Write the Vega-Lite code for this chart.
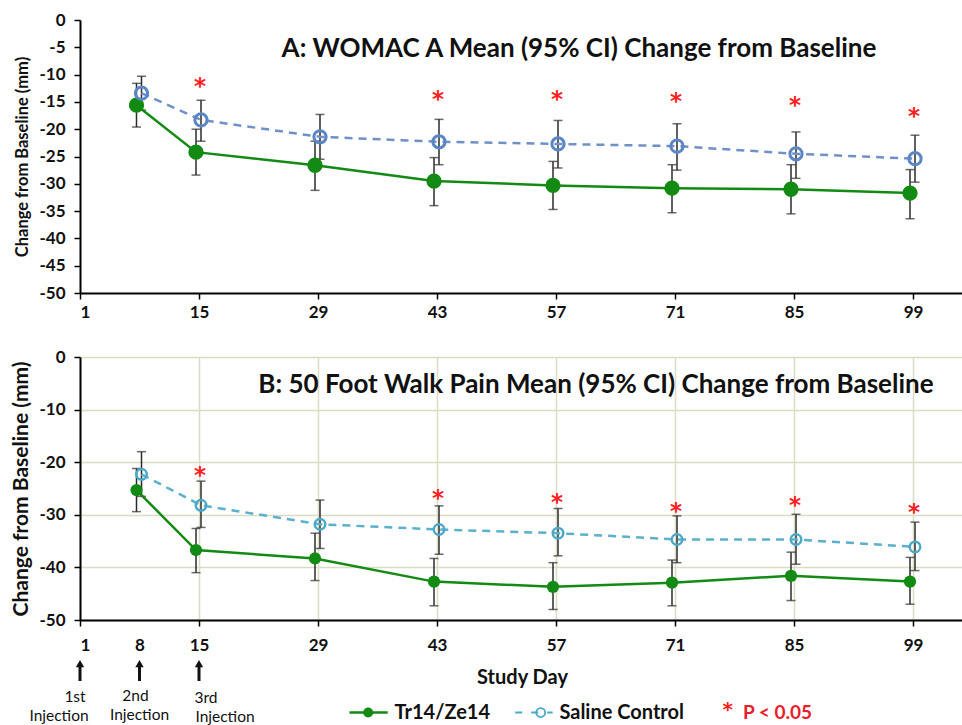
{
  "$schema": "https://vega.github.io/schema/vega-lite/v6.json",
  "background": "white",
  "padding": {"left": 10, "top": 11, "right": 0, "bottom": 0},
  "bounds": "flush",
  "spacing": 64,
  "datasets": {
    "womac": [
      {"day": 8, "group": "Tr14/Ze14", "mean": -15.6, "lo": -19.6, "hi": -11.6},
      {"day": 15, "group": "Tr14/Ze14", "mean": -24.2, "lo": -28.4, "hi": -20.0},
      {"day": 29, "group": "Tr14/Ze14", "mean": -26.6, "lo": -31.2, "hi": -22.2},
      {"day": 43, "group": "Tr14/Ze14", "mean": -29.5, "lo": -34.0, "hi": -25.2},
      {"day": 57, "group": "Tr14/Ze14", "mean": -30.3, "lo": -34.7, "hi": -25.9},
      {"day": 71, "group": "Tr14/Ze14", "mean": -30.8, "lo": -35.3, "hi": -26.5},
      {"day": 85, "group": "Tr14/Ze14", "mean": -31.0, "lo": -35.5, "hi": -26.5},
      {"day": 99, "group": "Tr14/Ze14", "mean": -31.7, "lo": -36.4, "hi": -27.4},
      {"day": 8, "group": "Saline Control", "mean": -13.4, "lo": -16.5, "hi": -10.3},
      {"day": 15, "group": "Saline Control", "mean": -18.3, "lo": -22.2, "hi": -14.7},
      {"day": 29, "group": "Saline Control", "mean": -21.4, "lo": -25.5, "hi": -17.3},
      {"day": 43, "group": "Saline Control", "mean": -22.3, "lo": -26.5, "hi": -18.2},
      {"day": 57, "group": "Saline Control", "mean": -22.7, "lo": -27.1, "hi": -18.4},
      {"day": 71, "group": "Saline Control", "mean": -23.1, "lo": -27.5, "hi": -19.0},
      {"day": 85, "group": "Saline Control", "mean": -24.5, "lo": -29.0, "hi": -20.5},
      {"day": 99, "group": "Saline Control", "mean": -25.4, "lo": -29.7, "hi": -21.1}
    ],
    "walk": [
      {"day": 8, "group": "Tr14/Ze14", "mean": -25.3, "lo": -29.4, "hi": -21.2},
      {"day": 15, "group": "Tr14/Ze14", "mean": -36.7, "lo": -41.0, "hi": -32.6},
      {"day": 29, "group": "Tr14/Ze14", "mean": -38.3, "lo": -42.5, "hi": -33.5},
      {"day": 43, "group": "Tr14/Ze14", "mean": -42.7, "lo": -47.3, "hi": -38.3},
      {"day": 57, "group": "Tr14/Ze14", "mean": -43.7, "lo": -48.0, "hi": -39.1},
      {"day": 71, "group": "Tr14/Ze14", "mean": -42.9, "lo": -47.3, "hi": -38.6},
      {"day": 85, "group": "Tr14/Ze14", "mean": -41.6, "lo": -46.3, "hi": -37.1},
      {"day": 99, "group": "Tr14/Ze14", "mean": -42.7, "lo": -47.0, "hi": -38.1},
      {"day": 8, "group": "Saline Control", "mean": -22.3, "lo": -26.5, "hi": -18.0},
      {"day": 15, "group": "Saline Control", "mean": -28.2, "lo": -32.4, "hi": -23.6},
      {"day": 29, "group": "Saline Control", "mean": -31.8, "lo": -36.4, "hi": -27.2},
      {"day": 43, "group": "Saline Control", "mean": -32.8, "lo": -37.5, "hi": -28.3},
      {"day": 57, "group": "Saline Control", "mean": -33.5, "lo": -37.8, "hi": -28.8},
      {"day": 71, "group": "Saline Control", "mean": -34.7, "lo": -39.1, "hi": -30.2},
      {"day": 85, "group": "Saline Control", "mean": -34.7, "lo": -39.4, "hi": -29.9},
      {"day": 99, "group": "Saline Control", "mean": -36.1, "lo": -40.6, "hi": -31.4}
    ],
    "sigA": [
      {"day": 15, "y": -11.1}, {"day": 43, "y": -13.6}, {"day": 57, "y": -13.6},
      {"day": 71, "y": -13.9}, {"day": 85, "y": -14.7}, {"day": 99, "y": -16.6}
    ],
    "sigB": [
      {"day": 15, "y": -21.5}, {"day": 43, "y": -25.9}, {"day": 57, "y": -26.6},
      {"day": 71, "y": -28.3}, {"day": 85, "y": -27.2}, {"day": 99, "y": -28.5}
    ],
    "injections": [
      {"day": 1, "label": "1st"}, {"day": 8, "label": "2nd"}, {"day": 15, "label": "3rd"}
    ]
  },
  "vconcat": [
    {
      "width": 884,
      "height": 273,
      "resolve": {"axis": {"x": "independent", "y": "independent"}},
      "layer": [
        {"data": {"values": [{}]}, "mark": {"type": "rect", "fill": "white"},
         "encoding": {"x": {"datum": 13, "axis": null}, "x2": {"datum": 95.5}, "y": {"datum": -3.2, "axis": null}, "y2": {"datum": -6.8}}},
        {
          "data": {"name": "womac"},
          "encoding": {
            "x": {"field": "day", "type": "quantitative",
                  "scale": {"domain": [1, 105], "nice": false, "zero": false},
                  "axis": {"values": [1, 15, 29, 43, 57, 71, 85, 99], "title": null, "labelPadding": 5}},
            "y": {"field": "mean", "type": "quantitative",
                  "scale": {"domain": [-50, 0], "nice": false},
                  "axis": {"values": [0, -5, -10, -15, -20, -25, -30, -35, -40, -45, -50],
                           "title": "Change from Baseline (mm)", "titleFontSize": 16.5, "titlePadding": 8}}
          },
          "layer": [
            {"transform": [{"filter": "datum.group == 'Tr14/Ze14'"}],
             "mark": {"type": "rule", "color": "#2b2b2b", "strokeWidth": 1.5, "xOffset": -3},
             "encoding": {"y": {"field": "lo"}, "y2": {"field": "hi"}}},
            {"transform": [{"filter": "datum.group == 'Tr14/Ze14'"}],
             "mark": {"type": "tick", "orient": "horizontal", "color": "#2b2b2b", "size": 9, "thickness": 1.5, "xOffset": -3},
             "encoding": {"y": {"field": "lo"}}},
            {"transform": [{"filter": "datum.group == 'Tr14/Ze14'"}],
             "mark": {"type": "tick", "orient": "horizontal", "color": "#2b2b2b", "size": 9, "thickness": 1.5, "xOffset": -3},
             "encoding": {"y": {"field": "hi"}}},
            {"transform": [{"filter": "datum.group == 'Saline Control'"}],
             "mark": {"type": "rule", "color": "#2b2b2b", "strokeWidth": 1.5, "xOffset": 2},
             "encoding": {"y": {"field": "lo"}, "y2": {"field": "hi"}}},
            {"transform": [{"filter": "datum.group == 'Saline Control'"}],
             "mark": {"type": "tick", "orient": "horizontal", "color": "#2b2b2b", "size": 9, "thickness": 1.5, "xOffset": 2},
             "encoding": {"y": {"field": "lo"}}},
            {"transform": [{"filter": "datum.group == 'Saline Control'"}],
             "mark": {"type": "tick", "orient": "horizontal", "color": "#2b2b2b", "size": 9, "thickness": 1.5, "xOffset": 2},
             "encoding": {"y": {"field": "hi"}}},
            {"transform": [{"filter": "datum.group == 'Tr14/Ze14'"}],
             "mark": {"type": "line", "color": "#138a13", "strokeWidth": 2.5, "xOffset": -3}},
            {"transform": [{"filter": "datum.group == 'Saline Control'"}],
             "mark": {"type": "line", "color": "#7090c8", "strokeWidth": 2.5, "strokeDash": [8, 6], "xOffset": 2}},
            {"transform": [{"filter": "datum.group == 'Tr14/Ze14'"}],
             "mark": {"type": "point", "shape": "circle", "filled": true, "color": "#138a13", "opacity": 1, "size": 235, "xOffset": -3}},
            {"transform": [{"filter": "datum.group == 'Saline Control'"}],
             "mark": {"type": "point", "shape": "circle", "filled": false, "color": "#5a86c5", "opacity": 1, "strokeWidth": 3, "size": 150, "xOffset": 2}},
            {"data": {"name": "sigA"},
             "mark": {"type": "text", "text": "*", "color": "#ff2020", "fontSize": 23, "fontWeight": "bold", "font": "DejaVu Sans", "xOffset": 1, "dy": 6},
             "encoding": {"y": {"field": "y"}}}
          ]
        },
        {"data": {"values": [{}]},
         "mark": {"type": "text", "fontSize": 26, "fontWeight": "bold", "color": "#111111", "align": "center", "baseline": "middle"},
         "encoding": {"x": {"datum": 59.7, "axis": null}, "y": {"datum": -5.4, "axis": null}, "text": {"value": "A: WOMAC A Mean (95% CI) Change from Baseline"}}}
      ]
    },
    {
      "width": 884,
      "height": 263,
      "resolve": {"axis": {"x": "independent", "y": "independent"}},
      "layer": [
        {
          "data": {"name": "walk"},
          "encoding": {
            "x": {"field": "day", "type": "quantitative",
                  "scale": {"domain": [1, 105], "nice": false, "zero": false},
                  "axis": {"values": [1, 8, 15, 29, 43, 57, 71, 85, 99], "title": "Study Day", "labelPadding": 11,
                           "titleFontSize": 20, "titlePadding": 14,
                           "gridColor": {"condition": {"test": "datum.value == 8", "value": "transparent"}, "value": "#dcdcc4"},
                           "tickColor": {"condition": {"test": "datum.value == 8", "value": "transparent"}, "value": "#000000"}}},
            "y": {"field": "mean", "type": "quantitative",
                  "scale": {"domain": [-50, 0], "nice": false},
                  "axis": {"values": [0, -10, -20, -30, -40, -50],
                           "title": "Change from Baseline (mm)", "titleFontSize": 21, "titlePadding": 7}}
          },
          "layer": [
            {"transform": [{"filter": "datum.group == 'Tr14/Ze14'"}],
             "mark": {"type": "rule", "color": "#2b2b2b", "strokeWidth": 1.5, "xOffset": -3},
             "encoding": {"y": {"field": "lo"}, "y2": {"field": "hi"}}},
            {"transform": [{"filter": "datum.group == 'Tr14/Ze14'"}],
             "mark": {"type": "tick", "orient": "horizontal", "color": "#2b2b2b", "size": 9, "thickness": 1.5, "xOffset": -3},
             "encoding": {"y": {"field": "lo"}}},
            {"transform": [{"filter": "datum.group == 'Tr14/Ze14'"}],
             "mark": {"type": "tick", "orient": "horizontal", "color": "#2b2b2b", "size": 9, "thickness": 1.5, "xOffset": -3},
             "encoding": {"y": {"field": "hi"}}},
            {"transform": [{"filter": "datum.group == 'Saline Control'"}],
             "mark": {"type": "rule", "color": "#2b2b2b", "strokeWidth": 1.5, "xOffset": 2},
             "encoding": {"y": {"field": "lo"}, "y2": {"field": "hi"}}},
            {"transform": [{"filter": "datum.group == 'Saline Control'"}],
             "mark": {"type": "tick", "orient": "horizontal", "color": "#2b2b2b", "size": 9, "thickness": 1.5, "xOffset": 2},
             "encoding": {"y": {"field": "lo"}}},
            {"transform": [{"filter": "datum.group == 'Saline Control'"}],
             "mark": {"type": "tick", "orient": "horizontal", "color": "#2b2b2b", "size": 9, "thickness": 1.5, "xOffset": 2},
             "encoding": {"y": {"field": "hi"}}},
            {"transform": [{"filter": "datum.group == 'Tr14/Ze14'"}],
             "mark": {"type": "line", "color": "#138a13", "strokeWidth": 2.5, "xOffset": -3}},
            {"transform": [{"filter": "datum.group == 'Saline Control'"}],
             "mark": {"type": "line", "color": "#5bb0cc", "strokeWidth": 2.5, "strokeDash": [8, 6], "xOffset": 2}},
            {"transform": [{"filter": "datum.group == 'Tr14/Ze14'"}],
             "mark": {"type": "point", "shape": "circle", "filled": true, "color": "#138a13", "opacity": 1, "size": 150, "xOffset": -3}},
            {"transform": [{"filter": "datum.group == 'Saline Control'"}],
             "mark": {"type": "point", "shape": "circle", "filled": false, "color": "#4aa8c8", "opacity": 1, "strokeWidth": 2.5, "size": 110, "xOffset": 2}},
            {"data": {"name": "sigB"},
             "mark": {"type": "text", "text": "*", "color": "#ff2020", "fontSize": 23, "fontWeight": "bold", "font": "DejaVu Sans", "xOffset": 1, "dy": 6},
             "encoding": {"y": {"field": "y"}}}
          ]
        },
        {"data": {"values": [{}]},
         "mark": {"type": "text", "fontSize": 26, "fontWeight": "bold", "color": "#111111", "align": "center", "baseline": "middle"},
         "encoding": {"x": {"datum": 61.7, "axis": null}, "y": {"datum": -5.4, "axis": null}, "text": {"value": "B: 50 Foot Walk Pain Mean (95% CI) Change from Baseline"}}},
        {"data": {"name": "injections"},
         "mark": {"type": "rule", "color": "#111111", "strokeWidth": 3},
         "encoding": {"x": {"field": "day", "type": "quantitative", "axis": null}, "y": {"datum": -58.8, "axis": null}, "y2": {"datum": -61.6}}},
        {"data": {"name": "injections"},
         "mark": {"type": "point", "shape": "triangle-up", "filled": true, "color": "#111111", "opacity": 1, "size": 70},
         "encoding": {"x": {"field": "day", "type": "quantitative", "axis": null}, "y": {"datum": -58.3, "axis": null}}},
        {"data": {"name": "injections"}, "transform": [{"filter": "datum.day == 1"}],
         "mark": {"type": "text", "fontSize": 15.5, "color": "#111111", "align": "center", "baseline": "middle", "dx": -5},
         "encoding": {"x": {"field": "day", "type": "quantitative", "axis": null}, "y": {"datum": -64.6, "axis": null}, "text": {"field": "label"}}},
        {"data": {"name": "injections"}, "transform": [{"filter": "datum.day == 8"}],
         "mark": {"type": "text", "fontSize": 15.5, "color": "#111111", "align": "center", "baseline": "middle", "dx": -4},
         "encoding": {"x": {"field": "day", "type": "quantitative", "axis": null}, "y": {"datum": -64.4, "axis": null}, "text": {"field": "label"}}},
        {"data": {"name": "injections"}, "transform": [{"filter": "datum.day == 15"}],
         "mark": {"type": "text", "fontSize": 15.5, "color": "#111111", "align": "center", "baseline": "middle", "dx": 7},
         "encoding": {"x": {"field": "day", "type": "quantitative", "axis": null}, "y": {"datum": -64.9, "axis": null}, "text": {"field": "label"}}},
        {"data": {"name": "injections"}, "transform": [{"filter": "datum.day == 1"}],
         "mark": {"type": "text", "fontSize": 15.5, "color": "#111111", "align": "center", "baseline": "middle", "dx": -21},
         "encoding": {"x": {"field": "day", "type": "quantitative", "axis": null}, "y": {"datum": -68.3, "axis": null}, "text": {"value": "Injection"}}},
        {"data": {"name": "injections"}, "transform": [{"filter": "datum.day == 8"}],
         "mark": {"type": "text", "fontSize": 15.5, "color": "#111111", "align": "center", "baseline": "middle", "dx": 0},
         "encoding": {"x": {"field": "day", "type": "quantitative", "axis": null}, "y": {"datum": -68.1, "axis": null}, "text": {"value": "Injection"}}},
        {"data": {"name": "injections"}, "transform": [{"filter": "datum.day == 15"}],
         "mark": {"type": "text", "fontSize": 15.5, "color": "#111111", "align": "center", "baseline": "middle", "dx": 26},
         "encoding": {"x": {"field": "day", "type": "quantitative", "axis": null}, "y": {"datum": -68.5, "axis": null}, "text": {"value": "Injection"}}},
        {"data": {"values": [{}]},
         "mark": {"type": "rule", "color": "#138a13", "strokeWidth": 2.5},
         "encoding": {"x": {"datum": 32.7, "axis": null}, "x2": {"datum": 37.2}, "y": {"datum": -67.6, "axis": null}}},
        {"data": {"values": [{}]},
         "mark": {"type": "point", "shape": "circle", "filled": true, "color": "#138a13", "opacity": 1, "size": 100},
         "encoding": {"x": {"datum": 34.9, "axis": null}, "y": {"datum": -67.6, "axis": null}}},
        {"data": {"values": [{}]},
         "mark": {"type": "text", "fontSize": 20, "fontWeight": "bold", "color": "#111111", "align": "left", "baseline": "middle"},
         "encoding": {"x": {"datum": 38.0, "axis": null}, "y": {"datum": -67.6, "axis": null}, "text": {"value": "Tr14/Ze14"}}},
        {"data": {"values": [{}]},
         "mark": {"type": "rule", "color": "#4aa8c8", "strokeWidth": 2, "strokeDash": [7, 9]},
         "encoding": {"x": {"datum": 52.2, "axis": null}, "x2": {"datum": 56.6}, "y": {"datum": -67.6, "axis": null}}},
        {"data": {"values": [{}]},
         "mark": {"type": "point", "shape": "circle", "filled": false, "color": "#4aa8c8", "opacity": 1, "strokeWidth": 1.8, "size": 80},
         "encoding": {"x": {"datum": 55.2, "axis": null}, "y": {"datum": -67.6, "axis": null}}},
        {"data": {"values": [{}]},
         "mark": {"type": "text", "fontSize": 20, "fontWeight": "bold", "color": "#111111", "align": "left", "baseline": "middle"},
         "encoding": {"x": {"datum": 57.4, "axis": null}, "y": {"datum": -67.6, "axis": null}, "text": {"value": "Saline Control"}}},
        {"data": {"values": [{}]},
         "mark": {"type": "text", "fontSize": 20, "fontWeight": "bold", "font": "DejaVu Sans", "color": "#ff2020", "align": "left", "baseline": "middle"},
         "encoding": {"x": {"datum": 76.6, "axis": null}, "y": {"datum": -67.2, "axis": null}, "text": {"value": "*"}}},
        {"data": {"values": [{}]},
         "mark": {"type": "text", "fontSize": 19, "fontWeight": "bold", "color": "#e8202a", "align": "left", "baseline": "middle"},
         "encoding": {"x": {"datum": 79.0, "axis": null}, "y": {"datum": -67.6, "axis": null}, "text": {"value": "P < 0.05"}}}
      ]
    }
  ],
  "config": {
    "font": "Lato",
    "locale": {"number": {"decimal": ".", "thousands": ",", "grouping": [3], "currency": ["$", ""], "minus": "-"}},
    "view": {"stroke": null},
    "axis": {
      "domainColor": "#000000", "domainWidth": 2,
      "tickColor": "#000000", "tickWidth": 1.5, "tickSize": 6,
      "labelFont": "Lato", "labelFontWeight": "bold", "labelFontSize": 17, "labelColor": "#111111",
      "titleFont": "Lato", "titleFontWeight": "bold", "titleColor": "#111111",
      "gridColor": "#dcdcc4", "gridWidth": 1.5, "labelPadding": 8
    },
    "axisY": {"labelPadding": 9}
  }
}
